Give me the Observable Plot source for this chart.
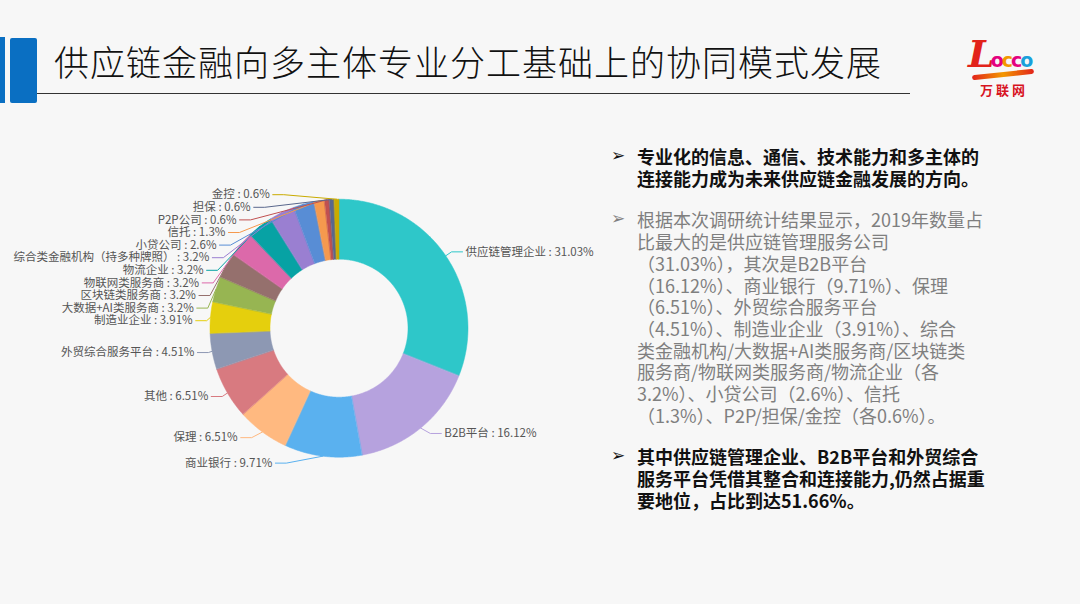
<!DOCTYPE html>
<html><head><meta charset="utf-8">
<script src="https://cdn.jsdelivr.net/npm/d3@7"></script>
<script src="https://cdn.jsdelivr.net/npm/@observablehq/plot@0.6"></script>
<style>
html,body{margin:0;padding:0;}
body{width:1080px;height:604px;background:#f7f7f7;position:relative;overflow:hidden;font-family:"Noto Sans CJK SC","Noto Sans",sans-serif;}
.bar1{position:absolute;left:0;top:37px;width:5px;height:66px;background:#0a6fc2;}
.bar2{position:absolute;left:10px;top:38px;width:27px;height:65px;background:#0a6fc2;border-radius:2px;}
.title{position:absolute;left:54px;top:37px;font-size:35px;color:#111;letter-spacing:1px;white-space:nowrap;line-height:48px;font-weight:300;}
.rule{position:absolute;left:37px;top:93px;width:873px;height:1px;background:#333;}
#chart{position:absolute;left:0;top:140px;}
.notes{position:absolute;left:610px;top:146px;width:430px;font-size:18px;line-height:21.7px;}
.item{position:relative;padding-left:27px;margin-bottom:20px;white-space:nowrap;}
.item .b{position:absolute;left:1px;top:-1px;font-size:17px;font-family:"DejaVu Sans",sans-serif;}
.bold{font-weight:bold;color:#111;}
.gray{color:#7f7f7f;}
.logo{position:absolute;left:964px;top:34px;width:80px;height:70px;}
.logo .w{position:absolute;left:4px;top:0px;white-space:nowrap;font-family:"DejaVu Sans",sans-serif;font-weight:bold;font-size:19px;line-height:40px;letter-spacing:-2px;}
.logo .w .L{font-family:"DejaVu Serif",serif;font-style:italic;font-size:38px;color:#e2231a;letter-spacing:-4px;}
.logo .s{position:absolute;left:8px;top:38px;width:62px;height:5px;border-radius:3px;background:linear-gradient(90deg,#e2231a,#f39800,#e2231a);transform:rotate(-6deg);}
.logo .c{position:absolute;left:16px;top:47px;font-size:13px;font-weight:bold;color:#d7141f;letter-spacing:3px;line-height:18px;white-space:nowrap;}
</style>
</head>
<body>
<div class="bar1"></div><div class="bar2"></div>
<div class="title">供应链金融向多主体专业分工基础上的协同模式发展</div>
<div class="rule"></div>
<div class="logo"><div class="w"><span class="L">L</span><span style="color:#e4007f">o</span><span style="color:#f39800">c</span><span style="color:#e4007f">c</span><span style="color:#1aa0db">o</span></div><div class="s"></div><div class="c">万联网</div></div>
<div id="chart"></div>
<div class="notes">
<div class="item bold"><span class="b">➢</span>专业化的信息、通信、技术能力和多主体的<br>连接能力成为未来供应链金融发展的方向。</div>
<div class="item gray"><span class="b">➢</span>根据本次调研统计结果显示，2019年数量占<br>比最大的是供应链管理服务公司<br>（31.03%），其次是B2B平台<br>（16.12%）、商业银行（9.71%）、保理<br>（6.51%）、外贸综合服务平台<br>（4.51%）、制造业企业（3.91%）、综合<br>类金融机构/大数据+AI类服务商/区块链类<br>服务商/物联网类服务商/物流企业（各<br>3.2%）、小贷公司（2.6%）、信托<br>（1.3%）、P2P/担保/金控（各0.6%）。</div>
<div class="item bold"><span class="b">➢</span>其中供应链管理企业、B2B平台和外贸综合<br>服务平台凭借其整合和连接能力,仍然占据重<br>要地位，占比到达51.66%。</div>
</div>
<script>
const names = ["供应链管理企业","B2B平台","商业银行","保理","其他","外贸综合服务平台","制造业企业","大数据+AI类服务商","区块链类服务商","物联网类服务商","物流企业","综合类金融机构（持多种牌照）","小贷公司","信托","P2P公司","担保","金控"];
const values = [31.03,16.12,9.71,6.51,6.51,4.51,3.91,3.2,3.2,3.2,3.2,3.2,2.6,1.3,0.6,0.6,0.6];
const colors = ["#2ec7c9","#b6a2de","#5ab1ef","#ffb980","#d87a80","#8d98b3","#e5cf0d","#97b552","#95706d","#dc69aa","#07a2a4","#9a7fd1","#588dd5","#f5994e","#c05050","#59678c","#c9ab00"];

// layout constants
const W = 620, H = 360, cx = 338.5, cy = 187.7;
const R = 129, r = 69;          // outer / inner radius
const Ly = 136;                  // radius used for label height
const ax = 146.5, by = 151.5;    // label text ellipse
const gap = 12.6;                // min vertical label spacing

const pie = d3.pie().sort(null).value(d => d.value)(names.map((n, i) => ({name: n, value: values[i]})));

// slice polygons (y up, clockwise from top)
const slicePts = [];
for (const p of pie) {
  const n = Math.max(2, Math.ceil((p.endAngle - p.startAngle) / (Math.PI / 360)) + 1);
  for (let k = 0; k < n; k++) {
    const a = p.startAngle + (p.endAngle - p.startAngle) * k / (n - 1);
    slicePts.push({name: p.data.name, x: R * Math.sin(a), y: R * Math.cos(a)});
  }
  for (let k = n - 1; k >= 0; k--) {
    const a = p.startAngle + (p.endAngle - p.startAngle) * k / (n - 1);
    slicePts.push({name: p.data.name, x: r * Math.sin(a), y: r * Math.cos(a)});
  }
}

// labels
const labels = pie.map(p => {
  const m = (p.startAngle + p.endAngle) / 2;
  return {name: p.data.name, text: `${p.data.name} : ${p.data.value}%`, m, left: Math.sin(m) < 0, sy: -Ly * Math.cos(m)};
});
for (const side of [true, false]) {
  const list = labels.filter(d => d.left === side).sort((a, b) => a.sy - b.sy);
  if (list.length) list[0].sy = Math.max(list[0].sy, -Ly + 2.5);
  for (let i = 1; i < list.length; i++) list[i].sy = Math.max(list[i].sy, list[i - 1].sy + gap);
}
const linePts = [];
for (const d of labels) {
  const dir = d.left ? -1 : 1;
  const dx = ax * Math.sqrt(Math.max(0, 1 - (d.sy / by) ** 2));
  d.tx = dir * dx;
  d.y = -d.sy;
  linePts.push({name: d.name, x: R * Math.sin(d.m), y: R * Math.cos(d.m)});
  linePts.push({name: d.name, x: d.tx - dir * 14, y: d.y});
  linePts.push({name: d.name, x: d.tx - dir * 3, y: d.y});
}

const chart = Plot.plot({
  width: W, height: H, margin: 0,
  x: {domain: [-cx, W - cx], axis: null},
  y: {domain: [-(H - cy), cy], axis: null},
  color: {domain: names, range: colors},
  style: {background: "transparent", overflow: "visible", fontFamily: "'Noto Sans CJK SC', sans-serif"},
  marks: [
    Plot.line(slicePts, {x: "x", y: "y", z: "name", fill: "name", stroke: "name", strokeWidth: 0.5, curve: "linear-closed"}),
    Plot.line(linePts, {x: "x", y: "y", z: "name", stroke: "name", strokeWidth: 1}),
    Plot.text(labels.filter(d => d.left), {x: "tx", y: "y", text: "text", textAnchor: "end", fill: "#555", fontSize: 11.5}),
    Plot.text(labels.filter(d => !d.left), {x: "tx", y: "y", text: "text", textAnchor: "start", fill: "#555", fontSize: 11.5})
  ]
});
document.getElementById("chart").appendChild(chart);
</script>
</body></html>
